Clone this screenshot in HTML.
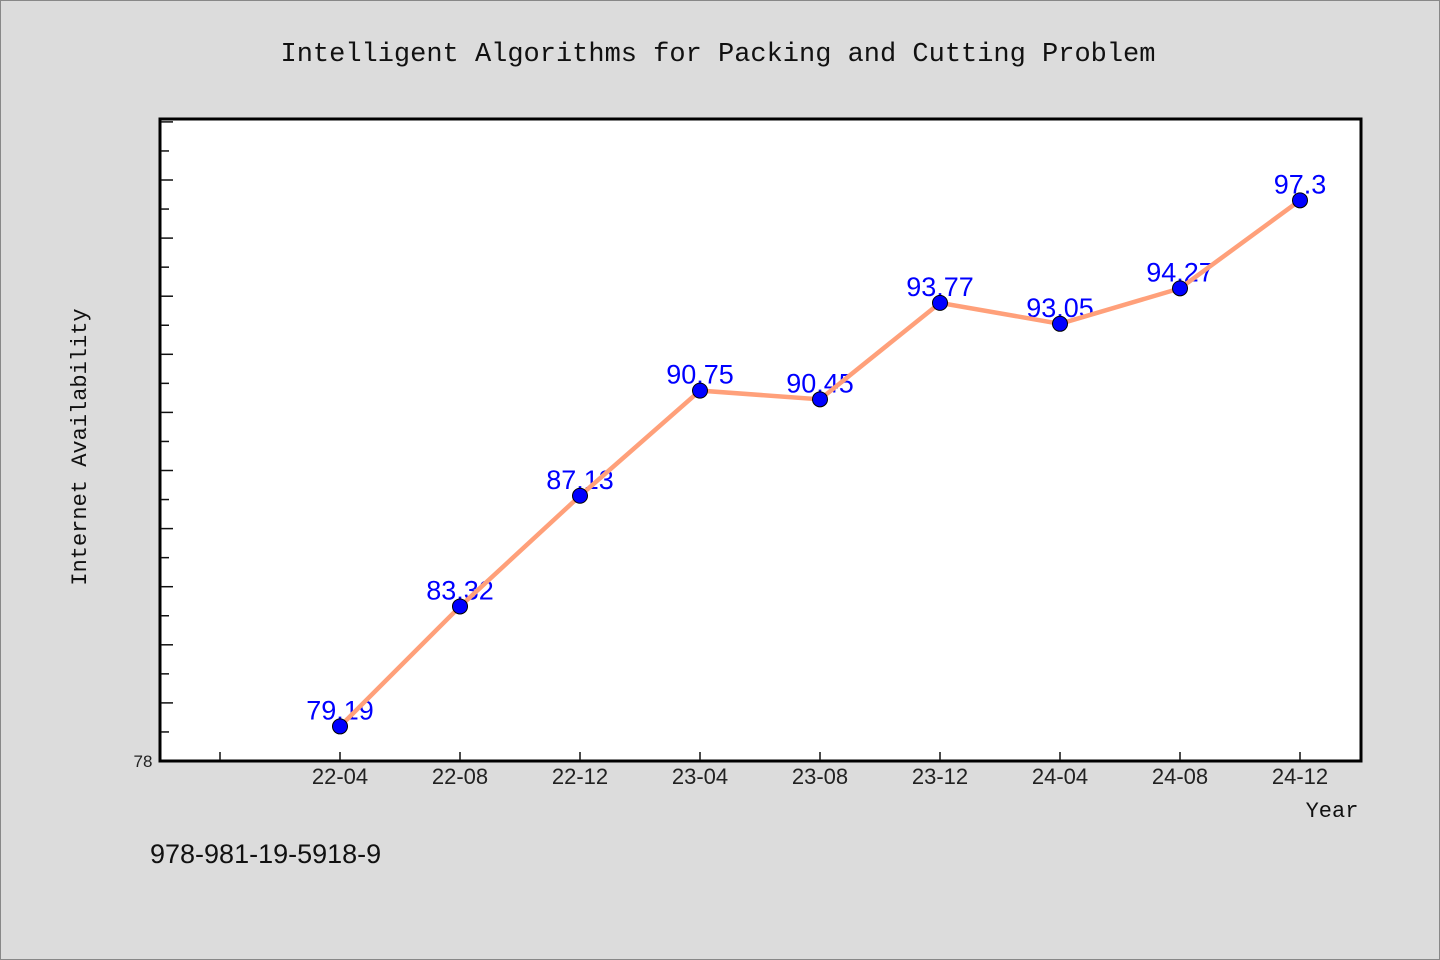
<!DOCTYPE html>
<html><head><meta charset="utf-8"><style>
body{margin:0;background:#dcdcdc;}
svg{display:block;font-family:"Liberation Sans","WenQuanYi Zen Hei",sans-serif;}
</style></head><body>
<svg id="chart" width="1440" height="960">
<rect x="0.5" y="0.5" width="1439" height="959" fill="#dcdcdc" stroke="#888"/>
<text x="718" y="61" text-anchor="middle" font-size="27" font-family="Liberation Mono, monospace" fill="#111">Intelligent Algorithms for Packing and Cutting Problem</text>
<rect x="160" y="119" width="1201" height="642" fill="#fff" stroke="#000" stroke-width="3"/>
<text transform="translate(86,447) rotate(-90)" text-anchor="middle" font-size="22" font-family="Liberation Mono, monospace" fill="#111">Internet Availability</text>
<text x="1332" y="817" text-anchor="middle" font-size="22" font-family="Liberation Mono, monospace" fill="#111">Year</text>
<text x="143" y="767" text-anchor="middle" font-size="17" fill="#222">78</text>
<text x="150" y="863" font-size="27" fill="#111">978-981-19-5918-9</text>
<g id="ticks"></g><g id="labels"></g><g id="series"></g>
</svg>
<script>
const categories=["22-04","22-08","22-12","23-04","23-08","23-12","24-04","24-08","24-12"];
const values=[79.19,83.32,87.13,90.75,90.45,93.77,93.05,94.27,97.3];
const valueLabels=["79.19","83.32","87.13","90.75","90.45","93.77","93.05","94.27","97.3"];
const yMin=78, yMax=100.1;
const NS="http://www.w3.org/2000/svg";
function xs(i){return 340+i*120;}
function ys(v){return 761-(v-yMin)*(642/(yMax-yMin));}
function mk(t,a,p){const e=document.createElementNS(NS,t);for(const k in a)e.setAttribute(k,a[k]);p.appendChild(e);return e;}
const tk=document.getElementById('ticks'),lb=document.getElementById('labels'),se=document.getElementById('series');
for(let v=yMin+1;v<yMax;v++){const y=ys(v);const long=(Math.round(v)%2===0);
 const t=mk('line',{x1:161,x2:long?173:169,y1:y,y2:y,stroke:'#111','stroke-width':1.5},tk);
 
 }
const t0=mk('line',{x1:220,x2:220,y1:760,y2:752,stroke:'#111','stroke-width':1.5},tk);


categories.forEach((c,i)=>{const x=xs(i);
 const t=mk('line',{x1:x,x2:x,y1:760,y2:752,stroke:'#111','stroke-width':1.5},tk);
 
 
 const l=mk('text',{x:x,y:784,'text-anchor':'middle','font-size':22,fill:'#222'},tk);l.textContent=c;
 
 
 const v=mk('text',{x:x,y:ys(values[i])-7,'text-anchor':'middle','font-size':27,fill:'#0000ff'},lb);v.textContent=valueLabels[i];
 
 });
const pl=mk('polyline',{points:values.map((v,i)=>xs(i)+','+ys(v)).join(' '),fill:'none',stroke:'#ffa07a','stroke-width':4.5},se);


values.forEach((v,i)=>{const c=mk('circle',{cx:xs(i),cy:ys(v),r:7.5,fill:'#0000ff',stroke:'#000','stroke-width':1},se);
 
 });
</script>
</body></html>
